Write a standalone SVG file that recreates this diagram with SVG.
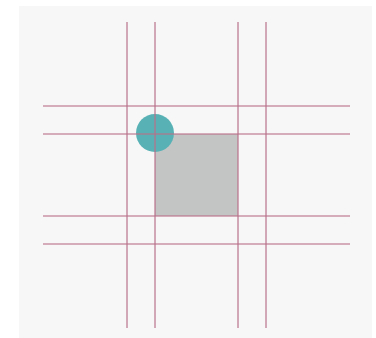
<svg xmlns="http://www.w3.org/2000/svg" width="376" height="338" viewBox="0 0 376 338">
<style>
.grid line{stroke:#b8708a;stroke-width:1.6;stroke-opacity:0.75}
</style>
<rect x="0" y="0" width="376" height="338" fill="#ffffff"/>
<rect x="19" y="6" width="353" height="332" fill="#f7f7f7"/>
<g id="square"><rect x="155" y="134" width="83" height="82" fill="#c3c5c5"/></g>
<g id="circle"><circle cx="155" cy="133" r="19" fill="#58b2b5"/></g>
<g id="connectors" class="grid">
<line x1="127" y1="22" x2="127" y2="328"/>
<line x1="155" y1="22" x2="155" y2="328"/>
<line x1="238" y1="22" x2="238" y2="328"/>
<line x1="266" y1="22" x2="266" y2="328"/>
<line x1="43" y1="106" x2="350" y2="106"/>
<line x1="43" y1="134" x2="350" y2="134"/>
<line x1="43" y1="216" x2="350" y2="216"/>
<line x1="43" y1="244" x2="350" y2="244"/>
</g>
</svg>
